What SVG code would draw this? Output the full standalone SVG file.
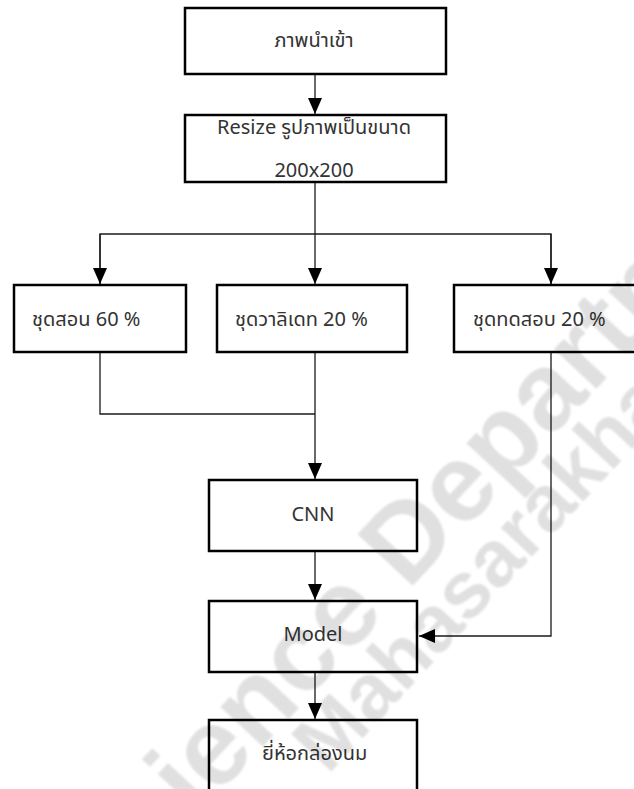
<svg xmlns="http://www.w3.org/2000/svg" width="634" height="789" viewBox="0 0 634 789">
  <style>
    .box { fill: #ffffff; stroke: #000000; stroke-width: 2.5; }
    .lbl { font-family: "Noto Sans Thai", "Leelawadee UI", "Noto Sans", "DejaVu Sans", sans-serif; font-size: 20px; fill: #333333; }
    .mid { text-anchor: middle; }
    .wire { fill: none; stroke: #1a1a1a; stroke-width: 1.3; }
    .wm { font-family: "Liberation Sans", Arial, sans-serif; font-weight: bold; fill: #000000; fill-opacity: 0.12; text-anchor: middle; }
  </style>
  <defs>
    <marker id="arrow" markerUnits="userSpaceOnUse" markerWidth="16" markerHeight="14" refX="16" refY="7" orient="auto">
      <path d="M0,0 L16,7 L0,14 z" fill="#000000"/>
    </marker>
    <filter id="soft" x="-10%" y="-10%" width="120%" height="120%">
      <feGaussianBlur stdDeviation="0.8"/>
    </filter>
  </defs>

  <!-- connectors -->
  <g id="connectors">
    <line class="wire" x1="315" y1="74" x2="315" y2="114" marker-end="url(#arrow)"/>
    <line class="wire" x1="315" y1="182" x2="315" y2="284" marker-end="url(#arrow)"/>
    <polyline class="wire" points="100,285 100,234 551,234 551,285"/>
    <line class="wire" x1="100" y1="234" x2="100" y2="284" marker-end="url(#arrow)"/>
    <line class="wire" x1="551" y1="234" x2="551" y2="284" marker-end="url(#arrow)"/>
    <polyline class="wire" points="100,352 100,414 315,414"/>
    <line class="wire" x1="315" y1="352" x2="315" y2="479" marker-end="url(#arrow)"/>
    <line class="wire" x1="315" y1="551" x2="315" y2="600" marker-end="url(#arrow)"/>
    <line class="wire" x1="315" y1="672" x2="315" y2="719" marker-end="url(#arrow)"/>
    <polyline class="wire" points="551,352 551,636 419,636" marker-end="url(#arrow)"/>
  </g>

  <g id="input">
    <rect class="box" x="185" y="8" width="261" height="66"/>
    <text class="lbl mid" x="314" y="47">ภาพนำเข้า</text>
  </g>

  <g id="resize">
    <rect class="box" x="185" y="115" width="261" height="67"/>
    <text class="lbl mid" x="314" y="134">Resize รูปภาพเป็นขนาด</text>
    <text class="lbl mid" x="314" y="177">200x200</text>
  </g>

  <g id="train">
    <rect class="box" x="14" y="285" width="172" height="67"/>
    <text class="lbl" x="32" y="326">ชุดสอน 60 %</text>
  </g>

  <g id="validate">
    <rect class="box" x="217" y="285" width="190" height="67"/>
    <text class="lbl" x="235" y="326">ชุดวาลิเดท 20 %</text>
  </g>

  <g id="test">
    <rect class="box" x="454" y="285" width="190" height="67"/>
    <text class="lbl" x="473" y="326">ชุดทดสอบ 20 %</text>
  </g>

  <g id="cnn">
    <rect class="box" x="209" y="480" width="208" height="71"/>
    <text class="lbl mid" x="313" y="521">CNN</text>
  </g>

  <g id="model">
    <rect class="box" x="209" y="601" width="208" height="71"/>
    <text class="lbl mid" x="313" y="641">Model</text>
  </g>

  <g id="brand">
    <rect class="box" x="209" y="720" width="208" height="90"/>
    <text class="lbl" x="262" y="760">ยี่ห้อกล่องนม</text>
  </g>

  <!-- watermark -->
  <g id="watermark" filter="url(#soft)">
    <text class="wm" font-size="110" transform="translate(464,531) rotate(-47)">Science Department</text>
    <text class="wm" font-size="80" transform="translate(525,564) rotate(-47)">Mahasarakham</text>
  </g>
</svg>
